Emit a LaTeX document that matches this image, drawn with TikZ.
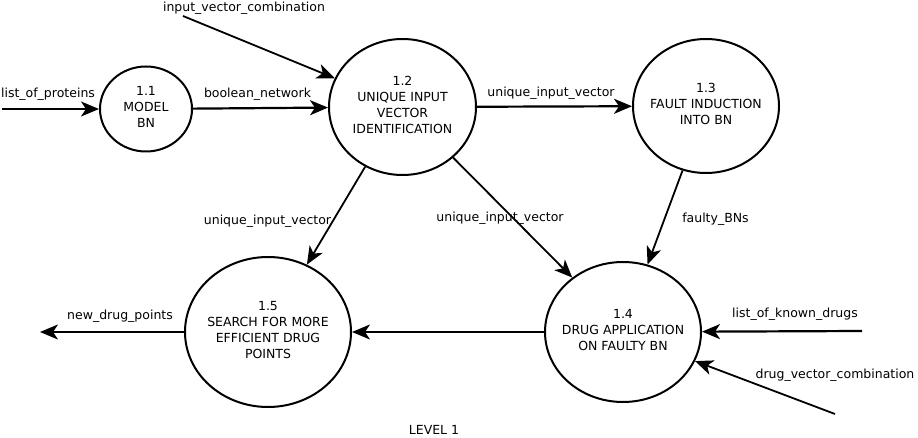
\documentclass[tikz,border=0pt]{standalone}
\usepackage{fontspec}
\setmainfont{DejaVu Sans}
\usetikzlibrary{shapes.geometric,arrows.meta}
\begin{document}
\begin{tikzpicture}[x=1pt,y=-1pt,
  txt/.style={font=\fontsize{12.5}{16}\selectfont},
  proc/.style={ellipse,draw,line width=2pt,inner sep=0pt},
  ptext/.style={label={[txt,align=center,yshift=2pt]center:{#1}}},
  arr/.style={line width=2.2pt,-{Stealth[length=18pt,width=15pt,inset=5pt]}},
  darr/.style={line width=1.8pt,-{Stealth[length=18pt,width=15pt,inset=5pt]}},
  lbl/.style={txt,anchor=base,inner sep=0pt}]
\useasboundingbox (0,0) rectangle (918,438);
% processes
\node[proc,minimum width=92pt,minimum height=85pt,ptext={1.1\\MODEL\\BN}] (e11) at (146,109) {};
\node[proc,minimum width=147pt,minimum height=136pt,ptext={1.2\\UNIQUE INPUT\\VECTOR\\IDENTIFICATION}] (e12) at (402.5,107) {};
\node[proc,minimum width=146pt,minimum height=134pt,ptext={1.3\\FAULT INDUCTION\\INTO BN}] (e13) at (706,106) {};
\node[proc,minimum width=156pt,minimum height=140pt,ptext={1.4\\DRUG APPLICATION\\ON FAULTY BN}] (e14) at (623,332) {};
\node[proc,minimum width=166pt,minimum height=150pt,ptext={1.5\\SEARCH FOR MORE\\EFFICIENT DRUG\\POINTS}] (e15) at (268,332) {};
% free ends
\coordinate (inprot) at (2,109);
\coordinate (invec) at (183,16);
\coordinate (indrugs) at (862,331);
\coordinate (indvc) at (835,414);
\coordinate (outnew) at (40,332);
% connectors
\draw[arr] (inprot) -- (e11);
\draw[arr] (e11) -- (e12);
\draw[darr] (invec) -- (e12.157);
\draw[arr] (e12) -- (e13);
\draw[darr] (e12.238) -- (e15.60);
\draw[darr] (e12.315) -- (e14.133);
\draw[darr] (e13.250) -- (e14.70);
\draw[arr] (indrugs) -- (e14);
\draw[darr] (indvc) -- (e14.338);
\draw[arr] (e14) -- (e15);
\draw[arr] (e15) -- (outnew);
% labels
\node[lbl] (l1) at (48,97.5) {list\_of\_proteins};
\node[lbl] (l2) at (257.5,98) {boolean\_network};
\node[lbl] (l3) at (244,11.5) {input\_vector\_combination};
\node[lbl] (l4) at (551,97) {unique\_input\_vector};
\node[lbl] (l5) at (267.5,225) {unique\_input\_vector};
\node[lbl] (l6) at (500,222) {unique\_input\_vector};
\node[lbl] (l7) at (715.5,223) {faulty\_BNs};
\node[lbl] (l8) at (795,317) {list\_of\_known\_drugs};
\node[lbl] (l9) at (835,378) {drug\_vector\_combination};
\node[lbl] (l10) at (120,319.5) {new\_drug\_points};
\node[lbl] (l11) at (434,434) {LEVEL 1};
\end{tikzpicture}
\end{document}
